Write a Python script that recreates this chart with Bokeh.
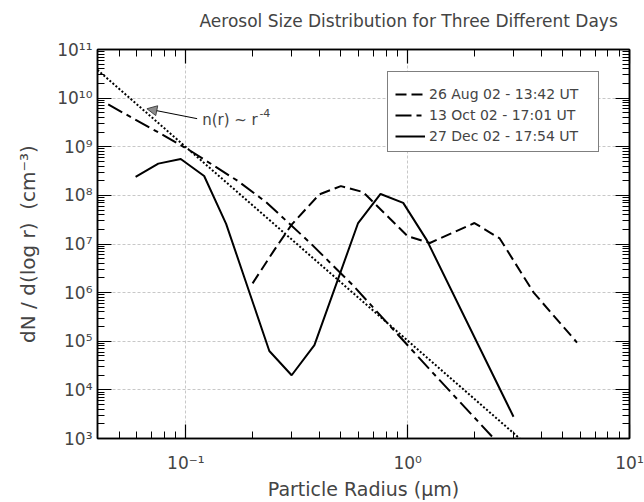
from bokeh.plotting import figure
from bokeh.models import (Range1d, FixedTicker, LogAxis, Legend, LegendItem,
                          Arrow, NormalHead, Label)
from bokeh.embed import file_html
from bokeh.resources import INLINE

# ---------------- data ----------------
title_text = "Aerosol Size Distribution for Three Different Days"
x_label = "Particle Radius (\u03bcm)"
y_label = "dN / d(log r)\u00a0\u00a0(cm\u207b\u00b3)"

aug_label = "26 Aug 02 - 13:42 UT"
aug_r = [0.2, 0.25, 0.3, 0.4, 0.5, 0.63, 1.0, 1.26, 2.0, 2.6, 3.7, 5.8]
aug_n = [1.55e6, 7.4e6, 2.5e7, 1.05e8, 1.55e8, 1.17e8, 1.45e7, 1.05e7, 2.7e7, 1.3e7, 1.0e6, 9.4e4]

oct_label = "13 Oct 02 - 17:01 UT"
oct_r = [0.0447, 0.0798, 0.107, 0.171, 0.23, 0.368, 0.568, 1.26, 2.4]
oct_n = [7.4e9, 1.7e9, 7.8e8, 2.0e8, 7.3e7, 1.0e7, 1.4e6, 2.6e4, 1.1e3]

dec_label = "27 Dec 02 - 17:54 UT"
dec_r = [0.0594, 0.0752, 0.0949, 0.121, 0.152, 0.238, 0.30, 0.38, 0.598, 0.755, 0.955, 1.22, 3.0]
dec_n = [2.4e8, 4.5e8, 5.6e8, 2.5e8, 2.6e7, 6.3e4, 2.0e4, 8.3e4, 2.7e7, 1.07e8, 7.0e7, 1.2e7, 2.8e3]

ref_r = [0.04, 3.2]
ref_n = [3.8e10, 1.0e3]
ref_text = "n(r) ~ r"
ref_exp = "-4"

x_ticks = [0.1, 1.0, 10.0]
x_tick_labels = ["10\u207b\u00b9", "10\u2070", "10\u00b9"]
y_ticks = [1e3, 1e4, 1e5, 1e6, 1e7, 1e8, 1e9, 1e10, 1e11]
y_tick_labels = ["10\u00b3", "10\u2074", "10\u2075", "10\u2076", "10\u2077",
                 "10\u2078", "10\u2079", "10\u00b9\u2070", "10\u00b9\u00b9"]

FONT = "DejaVu Sans"

x_minor = [m * 10.0 ** e for e in (-2, -1, 0) for m in range(2, 10)]
y_minor = [m * 10.0 ** e for e in range(3, 11) for m in range(2, 10)]

p = figure(width=644, height=502, x_axis_type="log", y_axis_type="log",
           x_range=Range1d(0.04, 10), y_range=Range1d(1e3, 1e11),
           output_backend="svg", toolbar_location=None,
           min_border_left=97, min_border_right=15, min_border_top=49,
           min_border_bottom=64)

p.title.text = title_text
p.title.align = "left"
p.title.offset = 102
p.title.text_font = FONT
p.title.text_font_size = "17px"
p.title.text_font_style = "normal"

xt = FixedTicker(ticks=x_ticks, minor_ticks=x_minor)
yt = FixedTicker(ticks=y_ticks, minor_ticks=y_minor)


def style_axis(ax):
    ax.major_tick_in = 14
    ax.major_tick_out = 0
    ax.minor_tick_in = 7
    ax.minor_tick_out = 0
    ax.axis_line_width = 1.5
    ax.major_tick_line_width = 1.2
    ax.minor_tick_line_width = 1
    ax.major_label_text_font = FONT
    ax.major_label_text_font_size = "17px"
    ax.axis_label_text_font = FONT
    ax.axis_label_text_font_style = "normal"


xa = p.xaxis[0]
xa.ticker = xt
xa.major_label_overrides = {float(t): s for t, s in zip(x_ticks, x_tick_labels)}
xa.axis_label = x_label
style_axis(xa)
xa.axis_label_text_font_size = "19px"
xa.major_label_standoff = 14
xa.axis_label_standoff = 2

ya = p.yaxis[0]
ya.ticker = yt
ya.major_label_overrides = {float(t): s for t, s in zip(y_ticks, y_tick_labels)}
ya.axis_label = y_label
style_axis(ya)
ya.axis_label_text_font_size = "20px"
ya.major_label_standoff = 5
ya.axis_label_standoff = 14

top = LogAxis(ticker=xt, major_label_overrides={float(t): "" for t in x_ticks})
style_axis(top)
top.major_label_standoff = 0
top.axis_label = " "
top.axis_label_text_font_size = "10px"
top.axis_label_standoff = 0
p.add_layout(top, "above")
right = LogAxis(ticker=yt, major_label_overrides={float(t): "" for t in y_ticks})
style_axis(right)
right.major_label_standoff = 0
p.add_layout(right, "right")

for g in (p.xgrid[0], p.ygrid[0]):
    g.grid_line_color = "#c8c8c8"
    g.grid_line_dash = "3 2"
    g.grid_line_width = 1
p.xgrid[0].ticker = xt
p.ygrid[0].ticker = yt

p.outline_line_color = "black"
p.outline_line_width = 1.5

r_aug = p.line(aug_r, aug_n, line_color="black", line_width=2, line_dash="11 5")
r_oct = p.line(oct_r, oct_n, line_color="black", line_width=2, line_dash="16 5 5 5")
r_dec = p.line(dec_r, dec_n, line_color="black", line_width=2)
p.line(ref_r, ref_n, line_color="black", line_width=2, line_dash="2 2")

p.add_layout(Arrow(end=NormalHead(size=10, fill_color="#8c8c8c", line_color="#444444",
                                  line_width=1),
                   x_start=0.1125, y_start=3.78e9, x_end=0.0668, y_end=6.05e9,
                   line_color="black", line_width=1))
p.add_layout(Label(x=0.1185, y=3.48e9, text=ref_text, text_font=FONT,
                   text_font_size="15px", text_baseline="middle", text_align="left"))
p.add_layout(Label(x=0.2147, y=4.9e9, text=ref_exp, text_font=FONT,
                   text_font_size="11px", text_baseline="middle", text_align="left"))

legend = Legend(items=[LegendItem(label=aug_label, renderers=[r_aug]),
                       LegendItem(label=oct_label, renderers=[r_oct]),
                       LegendItem(label=dec_label, renderers=[r_dec])],
                location=(290, 286))
legend.title = " "
legend.title_text_font_size = "6px"
legend.title_standoff = 1
legend.border_line_color = "black"
legend.border_line_width = 1
legend.background_fill_alpha = 1
legend.label_text_font = FONT
legend.label_text_font_size = "14px"
legend.label_standoff = 4
legend.glyph_width = 30
legend.glyph_height = 14
legend.label_height = 14
legend.label_width = 162
legend.spacing = 5
legend.padding = 7
legend.margin = 0
p.add_layout(legend)

open("out.html", "w").write(file_html(p, INLINE))
